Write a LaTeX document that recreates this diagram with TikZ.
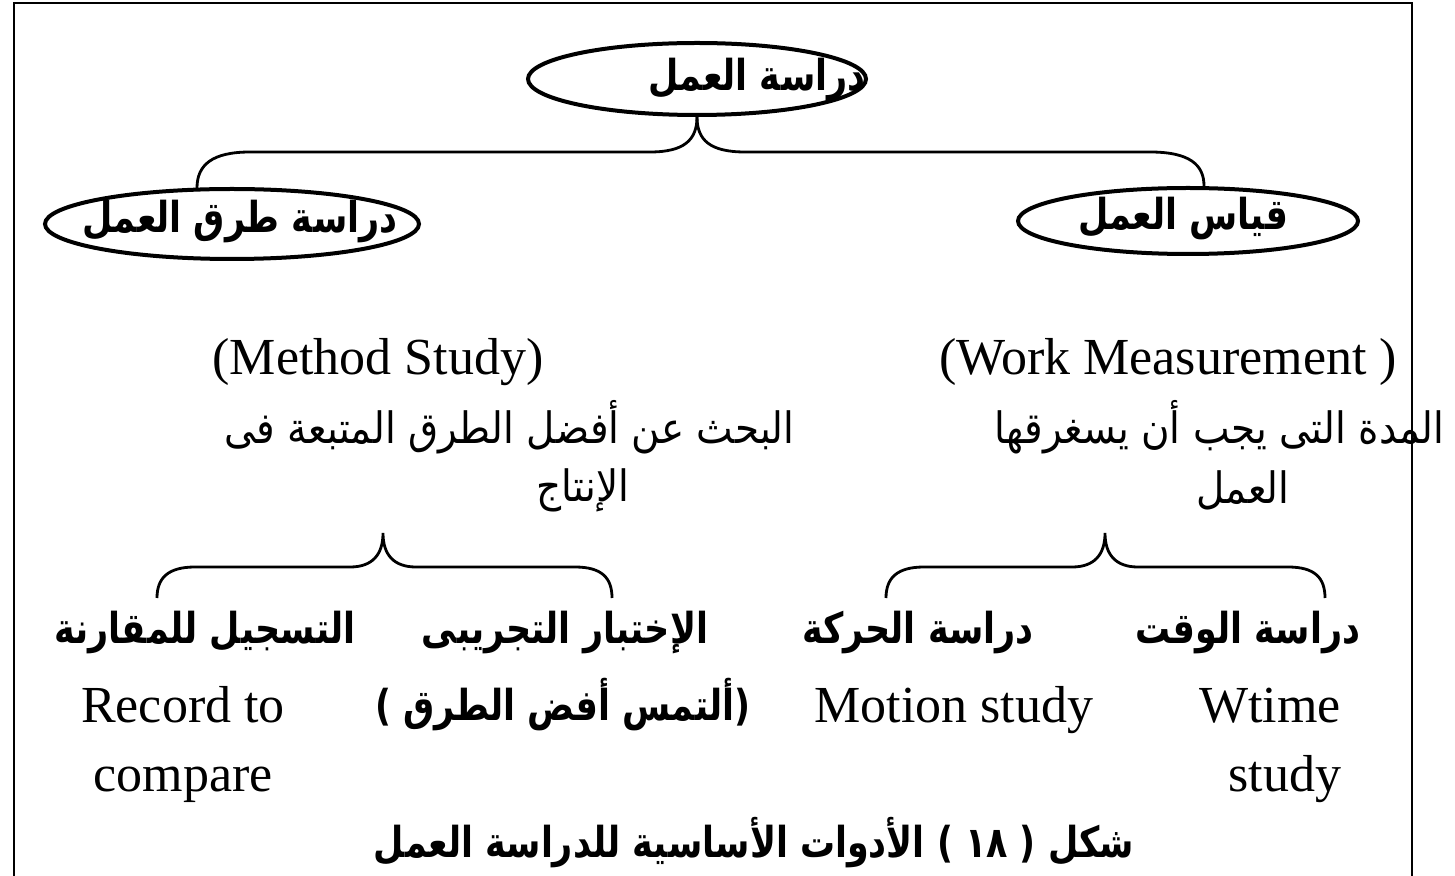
\documentclass[tikz,border=0pt]{standalone}
\usepackage{fontspec}
\setmainfont{Liberation Serif}
\newfontfamily\arabicfont[Script=Arabic, FakeStretch=0.9]{DejaVu Sans}
\newfontfamily\arabicbold[Script=Arabic, FakeStretch=0.82]{DejaVu Sans Bold}
\TeXXeTstate=1
\usetikzlibrary{shapes.geometric}

\tikzset{
  oval/.style={draw, ellipse, line width=2pt, inner sep=0pt},
  brace/.style={line width=1.4pt},
  en/.style={font=\fontsize{26}{30}\selectfont, inner sep=0pt, anchor=base},
  ar/.style={font=\arabicfont\fontsize{21.6}{26}\selectfont, inner sep=0pt},
  arb/.style={font=\arabicbold\fontsize{21.3}{26}\selectfont, inner sep=0pt},
}

\begin{document}
\begin{tikzpicture}[x=0.5pt, y=-0.5pt]
\useasboundingbox (0,0) rectangle (1455,876);
\draw[line width=1pt] (14,876) -- (14,3) -- (1412,3) -- (1412,876);

% top level
\node[oval, minimum width=169pt, minimum height=36pt] (work) at (697,79) {};
\node[arb] (worklbl) at (757,80) {\beginR دراسة العمل\endR};
\node[oval, minimum width=187pt, minimum height=35pt] (method) at (232,224) {};
\node[arb] (methodlbl) at (240,222) {\beginR دراسة طرق العمل\endR};
\node[oval, minimum width=170pt, minimum height=33pt] (measure) at (1188,221) {};
\node[arb] (measurelbl) at (1183,219) {\beginR قياس العمل\endR};

\coordinate (mtip) at (197,188);
\coordinate (wtip) at (1204,186);
\draw[brace] (work.south) .. controls (697,140) and (684,152) .. (650,152) -- (250,152)
  .. controls (212,152) and (197,165) .. (mtip);
\draw[brace] (work.south) .. controls (697,140) and (710,152) .. (745,152) -- (1150,152)
  .. controls (1190,152) and (1204,165) .. (wtip);

% descriptions
\node[en] (mname) at (378,375) {(Method Study)};
\node[ar, anchor=east] (mdesc) at (795,427) {\beginR البحث عن أفضل الطرق المتبعة فى\endR};
\node[ar] (mdesc2) at (583,490) {\beginR الإنتاج\endR};
\node[en] (wname) at (1168,375) {(Work Measurement )};
\node[ar, anchor=east] (wdesc) at (1445,427) {\beginR المدة التى يجب أن يسغرقها\endR};
\node[ar] (wdesc2) at (1243,490) {\beginR العمل\endR};

% lower braces
\coordinate (mcusp) at (383,533);
\coordinate (wcusp) at (1105,533);
\draw[brace] (157,598) .. controls (157,578) and (168,567) .. (195,567) -- (350,567)
  .. controls (372,567) and (383,555) .. (mcusp)
  .. controls (383,555) and (394,567) .. (416,567) -- (575,567)
  .. controls (602,567) and (612,578) .. (612,598);
\draw[brace] (886,598) .. controls (886,578) and (897,567) .. (924,567) -- (1072,567)
  .. controls (1094,567) and (1105,555) .. (wcusp)
  .. controls (1105,555) and (1116,567) .. (1138,567) -- (1288,567)
  .. controls (1315,567) and (1325,578) .. (1325,598);

% tools
\node[arb] (record) at (205,633) {\beginR التسجيل للمقارنة\endR};
\node[arb] (trial) at (565,633) {\beginR الإختبار التجريبى\endR};
\node[arb] (motion) at (918,633) {\beginR دراسة الحركة\endR};
\node[arb] (time) at (1248,633) {\beginR دراسة الوقت\endR};
\node[en] (recorden) at (183,722) {Record to};
\node[arb] (trialar) at (563,705) {\beginR(ألتمس أفض الطرق )\endR};
\node[en] (motionen) at (954,722) {Motion study};
\node[en] (timeen) at (1270,722) {Wtime};
\node[en] (recorden2) at (183,791) {compare};
\node[en] (timeen2) at (1285,791) {study};

\node[arb] (caption) at (754,843) {\beginR شكل ( \beginL ١٨\endL{} ) الأدوات الأساسية للدراسة العمل\endR};
\end{tikzpicture}
\end{document}
